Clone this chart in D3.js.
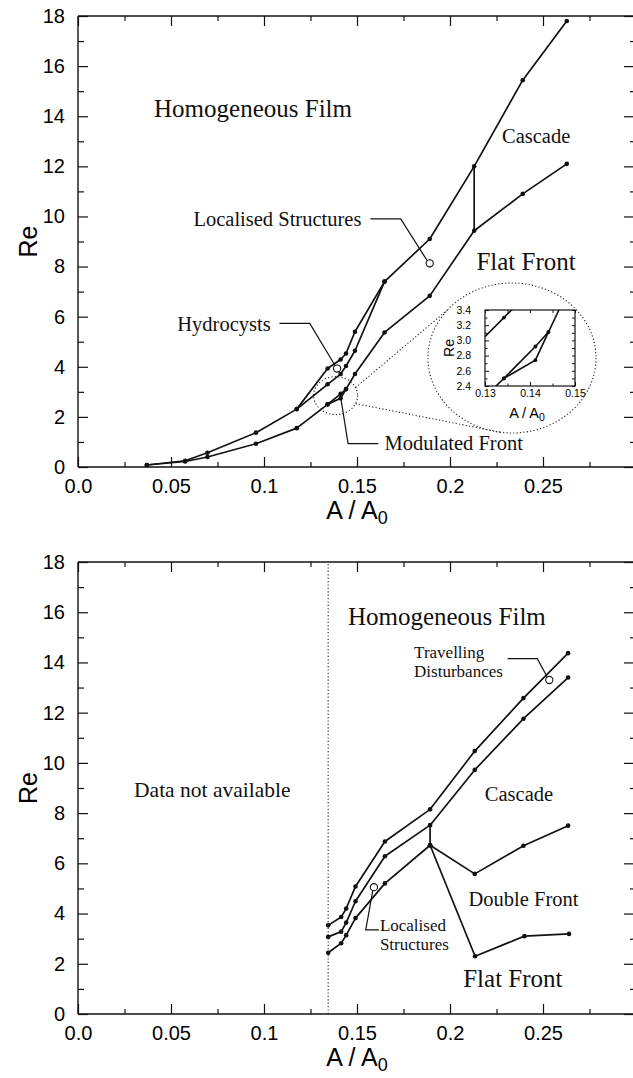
<!DOCTYPE html>
<html><head><meta charset="utf-8">
<script src="https://cdn.jsdelivr.net/npm/d3@7/dist/d3.min.js"></script>
<style>
html,body{margin:0;padding:0;background:#fff;}
svg{display:block;}
</style></head><body>
<svg id="c" width="633" height="1078"></svg>
<script>
// ================= DATA =================
const xTickValues = [0, 0.05, 0.1, 0.15, 0.2, 0.25];
const xTickLabels = ["0.0", "0.05", "0.1", "0.15", "0.2", "0.25"];
const xMinorTicks = [0.025, 0.075, 0.125, 0.175, 0.225, 0.275];
const yTickValues = [0, 2, 4, 6, 8, 10, 12, 14, 16, 18];
const yMinorTicks = [1, 3, 5, 7, 9, 11, 13, 15, 17];

// ---- top panel ----
const topArea = [0.037, 0.0576, 0.0696, 0.0957, 0.1176, 0.1342, 0.1412, 0.1441, 0.1489, 0.1648, 0.1891, 0.213, 0.2391, 0.2628];
const topFilmRe = [0.08, 0.25, 0.57, 1.37, 2.31, 3.93, 4.29, 4.53, 5.40, 7.40, 9.10, 12.0, 15.44, 17.8];
const topFrontRe = [0.08, 0.22, 0.40, 0.93, 1.55, 2.50, 2.74, 3.11, 3.71, 5.37, 6.83, 9.43, 10.9, 12.1];
const topHydroArea = [0.1176, 0.1342, 0.1412, 0.1441, 0.1489, 0.1648];
const topHydroRe = [2.31, 3.30, 3.71, 4.03, 4.64, 7.40];
const topModArea = [0.1342, 0.1412, 0.1441];
const topModRe = [2.50, 2.92, 3.11];
const topJumpArea = 0.213;

// ---- bottom panel ----
const botArea = [0.1345, 0.1415, 0.1442, 0.1492, 0.165, 0.1893, 0.2133, 0.2395, 0.2635];
const botFilmRe = [3.53, 3.86, 4.20, 5.08, 6.87, 8.15, 10.47, 12.58, 14.37];
const botCascadeRe = [3.07, 3.28, 3.64, 4.49, 6.28, 7.52, 9.72, 11.76, 13.40];
const botFrontArea = [0.1345, 0.1415, 0.1442, 0.1492, 0.165, 0.1893];
const botFrontRe = [2.44, 2.82, 3.14, 3.82, 5.20, 6.72];
const botDoubleArea = [0.1893, 0.2133, 0.2395, 0.2635];
const botDoubleRe = [6.72, 5.58, 6.70, 7.50];
const botFlatArea = [0.1893, 0.2135, 0.2400, 0.2640];
const botFlatRe = [6.72, 2.30, 3.10, 3.19];
const botDataLimit = 0.1345;

// ---- inset ----
const insetXTicks = [0.13, 0.14, 0.15];
const insetXMinor = [0.135, 0.145];
const insetYTicks = [2.4, 2.6, 2.8, 3.0, 3.2, 3.4];
const insetYMinor = [2.5, 2.7, 2.9, 3.1, 3.3];

// ---- annotations (data coordinates) ----
const topMarkers = [[0.1891, 8.13], [0.1393, 3.93]];
const botMarkers = [[0.2534, 13.3], [0.1591, 5.05]];
const topLeaders = [
  [[0.1572, 9.9], [0.1735, 9.9], [0.1876, 8.25]],
  [[0.1083, 5.73], [0.1246, 5.73], [0.1382, 4.05]],
  [[0.1412, 2.80], [0.1452, 0.93], [0.1615, 0.93]]
];
const botLeaders = [
  [[0.231, 14.15], [0.2469, 14.15], [0.2523, 13.42]],
  [[0.1585, 4.92], [0.1547, 3.35], [0.1618, 3.35]]
];
const topTexts = [
  ["Homogeneous Film", 0.0941, 14.33, "big", "middle"],
  ["Cascade", 0.2463, 13.2, "mid", "middle"],
  ["Flat Front", 0.2409, 8.2, "big", "middle"],
  ["Localised Structures", 0.1072, 9.89, "mid", "middle"],
  ["Hydrocysts", 0.0785, 5.73, "mid", "middle"],
  ["Modulated Front", 0.1648, 0.96, "mid", "start"]
];
const botTexts = [
  ["Homogeneous Film", 0.1983, 15.82, "big", "middle"],
  ["Data not available", 0.0722, 8.96, "mid", "middle"],
  ["Cascade", 0.2371, 8.75, "mid", "middle"],
  ["Double Front", 0.2395, 4.59, "mid", "middle"],
  ["Flat Front", 0.2338, 1.42, "big", "middle"],
  ["Travelling", 0.1807, 14.42, "small", "start"],
  ["Disturbances", 0.1807, 13.67, "small", "start"],
  ["Localised", 0.1623, 3.56, "small", "start"],
  ["Structures", 0.1623, 2.78, "small", "start"]
];
const zoomSmallCentre = [0.1385, 2.85];

// ================= DRAW =================
const svg = d3.select("#c");
const SERIF = "'Liberation Serif','Times New Roman',Times,serif";
const SANS = "'Liberation Sans',Arial,Helvetica,sans-serif";
const fontSize = {big: 25, mid: 20.5, small: 17};
const zip = (a, b) => a.map((v, i) => [v, b[i]]);

function panel(top, bottom) {
  const left = 78, right = 636;
  const x = d3.scaleLinear().domain([0, 0.3]).range([left, right]);
  const y = d3.scaleLinear().domain([0, 18]).range([bottom, top]);
  const g = svg.append("g");

  const styleAxis = sel => {
    sel.select(".domain").remove();
    sel.selectAll("line").attr("stroke", "#111").attr("stroke-width", 1.2);
  };
  g.append("g").attr("transform", `translate(0,${bottom})`)
    .call(d3.axisBottom(x).tickValues(xTickValues).tickSizeInner(-10).tickSizeOuter(0)
      .tickPadding(12).tickFormat((d, i) => xTickLabels[i]))
    .call(styleAxis)
    .call(s => s.selectAll("text").attr("font-family", SANS).attr("font-size", 20).attr("fill", "#000"));
  g.append("g").attr("transform", `translate(0,${bottom})`)
    .call(d3.axisBottom(x).tickValues(xMinorTicks).tickSizeInner(-5).tickSizeOuter(0).tickFormat(""))
    .call(styleAxis);
  g.append("g").attr("transform", `translate(0,${top})`)
    .call(d3.axisTop(x).tickValues(xTickValues).tickSizeInner(-10).tickSizeOuter(0).tickFormat(""))
    .call(styleAxis);
  g.append("g").attr("transform", `translate(0,${top})`)
    .call(d3.axisTop(x).tickValues(xMinorTicks).tickSizeInner(-5).tickSizeOuter(0).tickFormat(""))
    .call(styleAxis);
  g.append("g").attr("transform", `translate(${left},0)`)
    .call(d3.axisLeft(y).tickValues(yTickValues).tickSizeInner(-10).tickSizeOuter(0).tickPadding(13).tickFormat(d3.format("d")))
    .call(styleAxis)
    .call(s => s.selectAll("text").attr("font-family", SANS).attr("font-size", 20).attr("fill", "#000"));
  g.append("g").attr("transform", `translate(${left},0)`)
    .call(d3.axisLeft(y).tickValues(yMinorTicks).tickSizeInner(-6).tickSizeOuter(0).tickFormat(""))
    .call(styleAxis);
  g.append("g").attr("transform", `translate(${right},0)`)
    .call(d3.axisRight(y).tickValues(yTickValues).tickSizeInner(-12).tickSizeOuter(0).tickFormat(""))
    .call(styleAxis);
  g.append("g").attr("transform", `translate(${right},0)`)
    .call(d3.axisRight(y).tickValues(yMinorTicks).tickSizeInner(-6).tickSizeOuter(0).tickFormat(""))
    .call(styleAxis);

  const fr = g.append("g").attr("stroke", "#111").attr("stroke-width", 1.4);
  fr.append("line").attr("x1", left).attr("x2", right).attr("y1", top).attr("y2", top);
  fr.append("line").attr("x1", left).attr("x2", right).attr("y1", bottom).attr("y2", bottom);
  fr.append("line").attr("x1", left).attr("x2", left).attr("y1", top).attr("y2", bottom);
  fr.append("line").attr("x1", right).attr("x2", right).attr("y1", top).attr("y2", bottom);

  g.append("text").attr("transform", `translate(28,${(top + bottom) / 2}) rotate(-90)`)
    .attr("text-anchor", "middle").attr("dy", "0.35em")
    .attr("font-family", SANS).attr("font-size", 25).text("Re");
  const t = g.append("text").attr("x", x(0.15)).attr("y", bottom + 52)
    .attr("text-anchor", "middle").attr("font-family", SANS).attr("font-size", 25);
  t.append("tspan").text("A / A");
  t.append("tspan").attr("font-size", 18).attr("dy", 5).text("0");
  return {g, x, y};
}

function drawLine(g, x, y, pts, dots = true, width = 1.7) {
  const line = d3.line().x(d => x(d[0])).y(d => y(d[1]));
  g.append("path").datum(pts).attr("d", line).attr("fill", "none")
    .attr("stroke", "#111").attr("stroke-width", width).attr("stroke-linejoin", "round");
  if (dots) g.append("g").selectAll("circle").data(pts).join("circle")
    .attr("cx", d => x(d[0])).attr("cy", d => y(d[1])).attr("r", 2.3).attr("fill", "#111");
}
function drawTexts(g, x, y, arr) {
  g.append("g").selectAll("text").data(arr).join("text")
    .attr("x", d => x(d[1])).attr("y", d => y(d[2])).attr("dy", "0.35em")
    .attr("text-anchor", d => d[4]).attr("font-family", SERIF)
    .attr("font-size", d => d[0] === "Data not available" ? 21.5 : fontSize[d[3]])
    .attr("fill", "#111").text(d => d[0]);
}
function drawMarkers(g, x, y, arr) {
  g.append("g").selectAll("circle").data(arr).join("circle")
    .attr("cx", d => x(d[0])).attr("cy", d => y(d[1])).attr("r", 3.6)
    .attr("fill", "none").attr("stroke", "#111").attr("stroke-width", 1.1);
}
function drawLeaders(g, x, y, arr) {
  const line = d3.line().x(d => x(d[0])).y(d => y(d[1]));
  g.append("g").selectAll("path").data(arr).join("path").attr("d", line)
    .attr("fill", "none").attr("stroke", "#111").attr("stroke-width", 1.2);
}

// ---------- TOP PANEL ----------
const P1 = panel(16, 467);
{
  const {g, x, y} = P1;
  drawLine(g, x, y, zip(topArea, topFilmRe));
  drawLine(g, x, y, zip(topArea, topFrontRe));
  drawLine(g, x, y, zip(topHydroArea, topHydroRe));
  drawLine(g, x, y, zip(topModArea, topModRe));
  const j = topArea.indexOf(topJumpArea);
  drawLine(g, x, y, [[topJumpArea, topFilmRe[j]], [topJumpArea, topFrontRe[j]]], false);
  drawMarkers(g, x, y, topMarkers);
  drawLeaders(g, x, y, topLeaders);
  drawTexts(g, x, y, topTexts);

  const sc = {cx: x(zoomSmallCentre[0]), cy: y(zoomSmallCentre[1]), rx: 22, ry: 19};
  const bg = {cx: 512, cy: 358, rx: 84, ry: 75};
  const dotted = {stroke: "#222", "stroke-width": 1.1, "stroke-dasharray": "1.2 2.2", fill: "none"};
  const applyAttrs = (sel, o) => { for (const k in o) sel.attr(k, o[k]); return sel; };
  applyAttrs(g.append("ellipse").attr("cx", sc.cx).attr("cy", sc.cy).attr("rx", sc.rx).attr("ry", sc.ry), dotted);
  applyAttrs(g.append("ellipse").attr("cx", bg.cx).attr("cy", bg.cy).attr("rx", bg.rx).attr("ry", bg.ry), dotted);
  const pt = (e, a) => [e.cx + e.rx * Math.cos(a * Math.PI / 180), e.cy + e.ry * Math.sin(a * Math.PI / 180)];
  [[-25, -140], [25, 97]].forEach(([a1, a2]) => {
    const p1 = pt(sc, a1), p2 = pt(bg, a2);
    applyAttrs(g.append("line").attr("x1", p1[0]).attr("y1", p1[1]).attr("x2", p2[0]).attr("y2", p2[1]), dotted);
  });

  // inset
  const ix = d3.scaleLinear().domain([0.13, 0.15]).range([485, 575]);
  const iy = d3.scaleLinear().domain([2.4, 3.4]).range([386, 310]);
  const ig = g.append("g");
  ig.append("rect").attr("x", 485).attr("y", 310).attr("width", 90).attr("height", 76).attr("fill", "#fff");
  svg.append("defs").append("clipPath").attr("id", "insetClip")
    .append("rect").attr("x", 485).attr("y", 310).attr("width", 90).attr("height", 76);
  const ic = ig.append("g").attr("clip-path", "url(#insetClip)");
  const idraw = pts => {
    ic.append("path").datum(pts).attr("d", d3.line().x(d => ix(d[0])).y(d => iy(d[1])))
      .attr("fill", "none").attr("stroke", "#111").attr("stroke-width", 1.6);
    ic.append("g").selectAll("circle").data(pts).join("circle")
      .attr("cx", d => ix(d[0])).attr("cy", d => iy(d[1])).attr("r", 1.9).attr("fill", "#111");
  };
  idraw(zip(topArea, topFilmRe));
  idraw(zip(topArea, topFrontRe));
  idraw(zip(topHydroArea, topHydroRe));
  idraw(zip(topModArea, topModRe));
  const st = sel => { sel.select(".domain").remove(); sel.selectAll("line").attr("stroke", "#111").attr("stroke-width", 1); };
  ig.append("g").attr("transform", "translate(0,386)")
    .call(d3.axisBottom(ix).tickValues(insetXTicks).tickSizeInner(-4).tickSizeOuter(0).tickPadding(4).tickFormat(d3.format(".2f")))
    .call(st).call(s => s.selectAll("text").attr("font-family", SANS).attr("font-size", 10.5).attr("fill", "#000"));
  ig.append("g").attr("transform", "translate(0,386)")
    .call(d3.axisBottom(ix).tickValues(insetXMinor).tickSizeInner(-2.5).tickSizeOuter(0).tickFormat("")).call(st);
  ig.append("g").attr("transform", "translate(0,310)")
    .call(d3.axisTop(ix).tickValues(insetXTicks.concat(insetXMinor)).tickSizeInner(-3).tickSizeOuter(0).tickFormat("")).call(st);
  ig.append("g").attr("transform", "translate(485,0)")
    .call(d3.axisLeft(iy).tickValues(insetYTicks).tickSizeInner(-4).tickSizeOuter(0).tickPadding(14).tickFormat(d3.format(".1f")))
    .call(st).call(s => s.selectAll("text").attr("font-family", SANS).attr("font-size", 10.5).attr("fill", "#000"));
  ig.append("g").attr("transform", "translate(485,0)")
    .call(d3.axisLeft(iy).tickValues(insetYMinor).tickSizeInner(-2.5).tickSizeOuter(0).tickFormat("")).call(st);
  ig.append("g").attr("transform", "translate(575,0)")
    .call(d3.axisRight(iy).tickValues(insetYTicks.concat(insetYMinor)).tickSizeInner(-3).tickSizeOuter(0).tickFormat("")).call(st);
  ig.append("rect").attr("x", 485).attr("y", 310).attr("width", 90).attr("height", 76)
    .attr("fill", "none").attr("stroke", "#111").attr("stroke-width", 1.2);
  ig.append("text").attr("transform", `translate(449,348) rotate(-90)`).attr("text-anchor", "middle")
    .attr("dy", "0.35em").attr("font-family", SANS).attr("font-size", 14).text("Re");
  const it = ig.append("text").attr("x", 527).attr("y", 418).attr("text-anchor", "middle")
    .attr("font-family", SANS).attr("font-size", 14.5);
  it.append("tspan").text("A / A");
  it.append("tspan").attr("font-size", 10.5).attr("dy", 3).text("0");
}

// ---------- BOTTOM PANEL ----------
const P2 = panel(562, 1014);
{
  const {g, x, y} = P2;
  g.append("line").attr("x1", x(botDataLimit)).attr("x2", x(botDataLimit))
    .attr("y1", y(0)).attr("y2", y(18)).attr("stroke", "#222").attr("stroke-width", 1.1)
    .attr("stroke-dasharray", "1.2 2.2");
  drawLine(g, x, y, zip(botArea, botFilmRe));
  drawLine(g, x, y, zip(botArea, botCascadeRe));
  drawLine(g, x, y, zip(botFrontArea, botFrontRe));
  drawLine(g, x, y, zip(botDoubleArea, botDoubleRe));
  drawLine(g, x, y, zip(botFlatArea, botFlatRe));
  const k = botArea.indexOf(botFrontArea[botFrontArea.length - 1]);
  drawLine(g, x, y, [[botArea[k], botCascadeRe[k]], [botArea[k], botFrontRe[botFrontRe.length - 1]]], false);
  drawMarkers(g, x, y, botMarkers);
  drawLeaders(g, x, y, botLeaders);
  drawTexts(g, x, y, botTexts);
}
</script>
</body></html>
